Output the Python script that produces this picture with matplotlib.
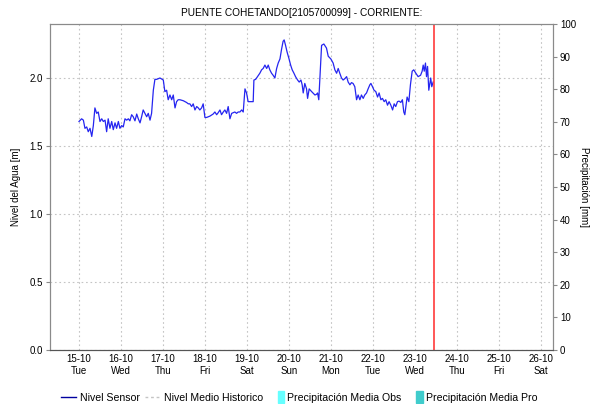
import numpy as np
import pandas as pd
import matplotlib
matplotlib.use("Agg")
import matplotlib.pyplot as plt
import matplotlib.dates as mdates
from matplotlib.lines import Line2D
from matplotlib.patches import Patch, Rectangle
from matplotlib.legend_handler import HandlerPatch

plt.rcParams['font.family'] = ['Liberation Sans', 'DejaVu Sans']

# station + time window
title = "PUENTE COHETANDO[2105700099] - CORRIENTE:"
start = pd.Timestamp("2024-10-15 00:00")
day_ticks = pd.date_range("2024-10-15", "2024-10-26", freq="D")
now_hours = 203.0  # current time marker, hours after start

# sensor readings: hours after start, water level [m]
sensor_hours = [
    0.0, 1.5, 2.5, 3.4, 4.4, 5.3, 6.3, 7.3, 8.2, 9.1, 10.1, 11.0, 12.0, 13.0, 13.9,
    14.9, 15.8, 16.7, 17.7, 18.7, 19.6, 20.6, 21.5, 22.5, 23.4, 24.4, 25.3, 26.3,
    27.3, 28.2, 29.1, 30.1, 31.0, 32.0, 33.0, 33.9, 34.9, 35.8, 36.7, 37.7, 38.7,
    39.6, 40.6, 41.5, 42.5, 43.4, 44.4, 46.3, 47.6, 48.2, 49.1, 50.1, 51.0, 52.0,
    53.0, 53.9, 54.9, 55.8, 56.7, 57.7, 59.6, 61.5, 62.5, 63.4, 64.4, 65.3, 66.3,
    67.3, 68.2, 69.1, 70.1, 71.0, 72.0, 73.0, 74.9, 76.7, 77.7, 78.7, 79.6, 80.6,
    81.5, 82.5, 83.4, 84.4, 85.3, 86.3, 87.3, 88.2, 89.1, 90.1, 91.0, 92.0, 93.0,
    93.9, 94.9, 95.8, 96.7, 97.7, 99.6, 100.0, 101.0, 102.1, 103.4, 104.4, 105.3,
    106.3, 107.3, 108.2, 109.1, 110.1, 111.0, 112.0, 113.0, 113.9, 114.9, 115.8,
    116.7, 117.3, 118.1, 119.0, 120.0, 121.0, 121.9, 122.9, 123.8, 125.0, 125.9,
    126.9, 127.6, 128.2, 129.1, 130.1, 130.7, 131.6, 133.0, 134.9, 135.8, 136.4,
    137.1, 137.7, 138.7, 140.0, 141.5, 142.5, 144.0, 145.3, 146.3, 147.3, 148.2,
    149.1, 150.1, 151.0, 152.0, 153.0, 153.9, 154.9, 155.8, 156.7, 157.7, 158.7,
    159.6, 160.6, 161.5, 162.5, 163.4, 164.4, 165.3, 166.3, 166.9, 167.8, 168.7,
    169.7, 170.7, 171.6, 172.6, 173.5, 174.5, 175.4, 176.4, 177.3, 178.3, 179.3,
    180.2, 181.1, 182.1, 183.0, 184.0, 184.9, 185.7, 186.3, 186.9, 187.6, 188.6,
    189.5, 190.5, 191.4, 192.6, 193.9, 195.3, 196.2, 196.8, 197.4, 198.1, 198.7,
    199.3, 200.0, 200.6, 201.1, 201.7, 202.5,
]
sensor_level = [
    1.68, 1.70, 1.69, 1.63, 1.64, 1.605, 1.63, 1.57, 1.65, 1.78, 1.74, 1.75, 1.68, 1.70, 1.68,
    1.69, 1.605, 1.70, 1.63, 1.68, 1.62, 1.67, 1.63, 1.68, 1.63, 1.65, 1.64, 1.70,
    1.69, 1.70, 1.685, 1.73, 1.715, 1.685, 1.735, 1.70, 1.67, 1.715, 1.765, 1.74, 1.715,
    1.74, 1.69, 1.74, 1.91, 1.99, 1.99, 2.00, 1.99, 1.985, 1.90, 1.91, 1.84, 1.875,
    1.84, 1.875, 1.78, 1.826, 1.84, 1.84, 1.833, 1.82, 1.81, 1.81, 1.79, 1.81, 1.765,
    1.79, 1.78, 1.765, 1.78, 1.81, 1.71, 1.71, 1.72, 1.735, 1.75, 1.73, 1.745, 1.765,
    1.73, 1.75, 1.765, 1.74, 1.79, 1.70, 1.74, 1.745, 1.75, 1.74, 1.75, 1.75, 1.765,
    1.75, 1.92, 1.89, 1.826, 1.826, 1.826, 1.985, 1.99, 2.01, 2.035, 2.06, 2.07,
    2.095, 2.07, 2.095, 2.06, 2.035, 2.02, 2.00, 2.07, 2.11, 2.14, 2.21,
    2.27, 2.28, 2.24, 2.19, 2.145, 2.095, 2.06, 2.035, 2.01, 1.985, 1.97,
    1.985, 1.95, 1.89, 1.96, 1.92, 1.85, 1.92, 1.90, 1.875, 1.88, 1.89,
    1.84, 1.985, 2.24, 2.25, 2.22, 2.16, 2.14, 2.11, 2.06, 2.035, 2.07,
    2.035, 2.00, 1.985, 1.995, 2.01, 1.97, 1.95, 1.966, 1.96, 1.936, 1.84,
    1.875, 1.84, 1.875, 1.85, 1.875, 1.89, 1.92, 1.95, 1.96, 1.936, 1.91,
    1.90, 1.86, 1.89, 1.84, 1.85, 1.826, 1.84, 1.80, 1.826, 1.80, 1.765,
    1.81, 1.79, 1.826, 1.83, 1.82, 1.84, 1.75, 1.73, 1.79, 1.86, 1.826,
    1.95, 2.05, 2.06, 2.035, 2.01, 2.02, 2.05, 2.095, 2.05, 2.11, 2.01,
    2.085, 1.91, 1.96, 2.00, 1.936, 1.97,
]

level_ticks = [0.0, 0.5, 1.0, 1.5, 2.0]
precip_ticks = list(range(0, 101, 10))

times = start + pd.to_timedelta(sensor_hours, unit="h")
now = start + pd.Timedelta(hours=now_hours)

fig = plt.figure(figsize=(5.98, 4.04), dpi=100)
ax = fig.add_axes([0.0836, 0.1337, 0.8411, 0.8069])
ax2 = ax.twinx()

ax.plot(times, sensor_level, color="#2525f0", lw=0.9, zorder=3)
ax.axvline(now, color="#ff3b3b", lw=1.2, zorder=4)

ax.set_xlim(pd.Timestamp("2024-10-14 07:25"), pd.Timestamp("2024-10-26 07:00"))
ax.set_ylim(0, 2.397)
ax2.set_ylim(0, 100)

ax.set_xticks(day_ticks)
ax.xaxis.set_major_formatter(mdates.DateFormatter("%d-%m\n%a"))
ax.set_yticks(level_ticks)
ax.yaxis.set_major_formatter(matplotlib.ticker.FormatStrFormatter("%.1f"))
ax2.set_yticks(precip_ticks)

ax.grid(True, color="#c4c4c4", ls=(0, (1.5, 2.5)), lw=0.8)
ax.set_axisbelow(True)

for a in (ax, ax2):
    for side in ("left", "right", "top"):
        a.spines[side].set_color("#8a8a8a")
    a.spines["bottom"].set_color("#555555")
    a.spines["bottom"].set_linestyle((0, (1, 1)))
ax.tick_params(axis="x", length=0, labelsize=7, pad=3)
ax.tick_params(axis="y", length=3, color="#8a8a8a", labelsize=7, pad=2)
ax2.tick_params(axis="y", length=3, color="#8a8a8a", labelsize=7, pad=2)

ax.set_ylabel("Nivel del Agua [m]", fontsize=7, labelpad=6)
ax2.set_ylabel("Precipitación [mm]", fontsize=7, rotation=270, labelpad=9)
ax.set_title(title, fontsize=7.3, pad=6)


# narrow colour swatch at the right end of the handle box
def swatch(legend, orig_handle, xdescent, ydescent, width, height, fontsize):
    return Rectangle((width - xdescent - 4.5, -ydescent - 1.5), 4.5, height + 3)


handles = [
    Line2D([], [], color="#0000a0", lw=1.0),
    Line2D([], [], color="#c4c4c4", lw=1.0, ls=(0, (2, 2))),
    Patch(color="#66ffff"),
    Patch(color="#40cccc"),
]
labels = ["Nivel Sensor", "Nivel Medio Historico",
          "Precipitación Media Obs", "Precipitación Media Pro"]
fig.legend(handles, labels, loc="lower center", bbox_to_anchor=(0.5, -0.02), ncol=4,
           frameon=False, fontsize=7.6, handlelength=1.5, handletextpad=0.3,
           columnspacing=0.5,
           handler_map={Patch: HandlerPatch(patch_func=swatch)})

fig.savefig("out.png", dpi=100)
